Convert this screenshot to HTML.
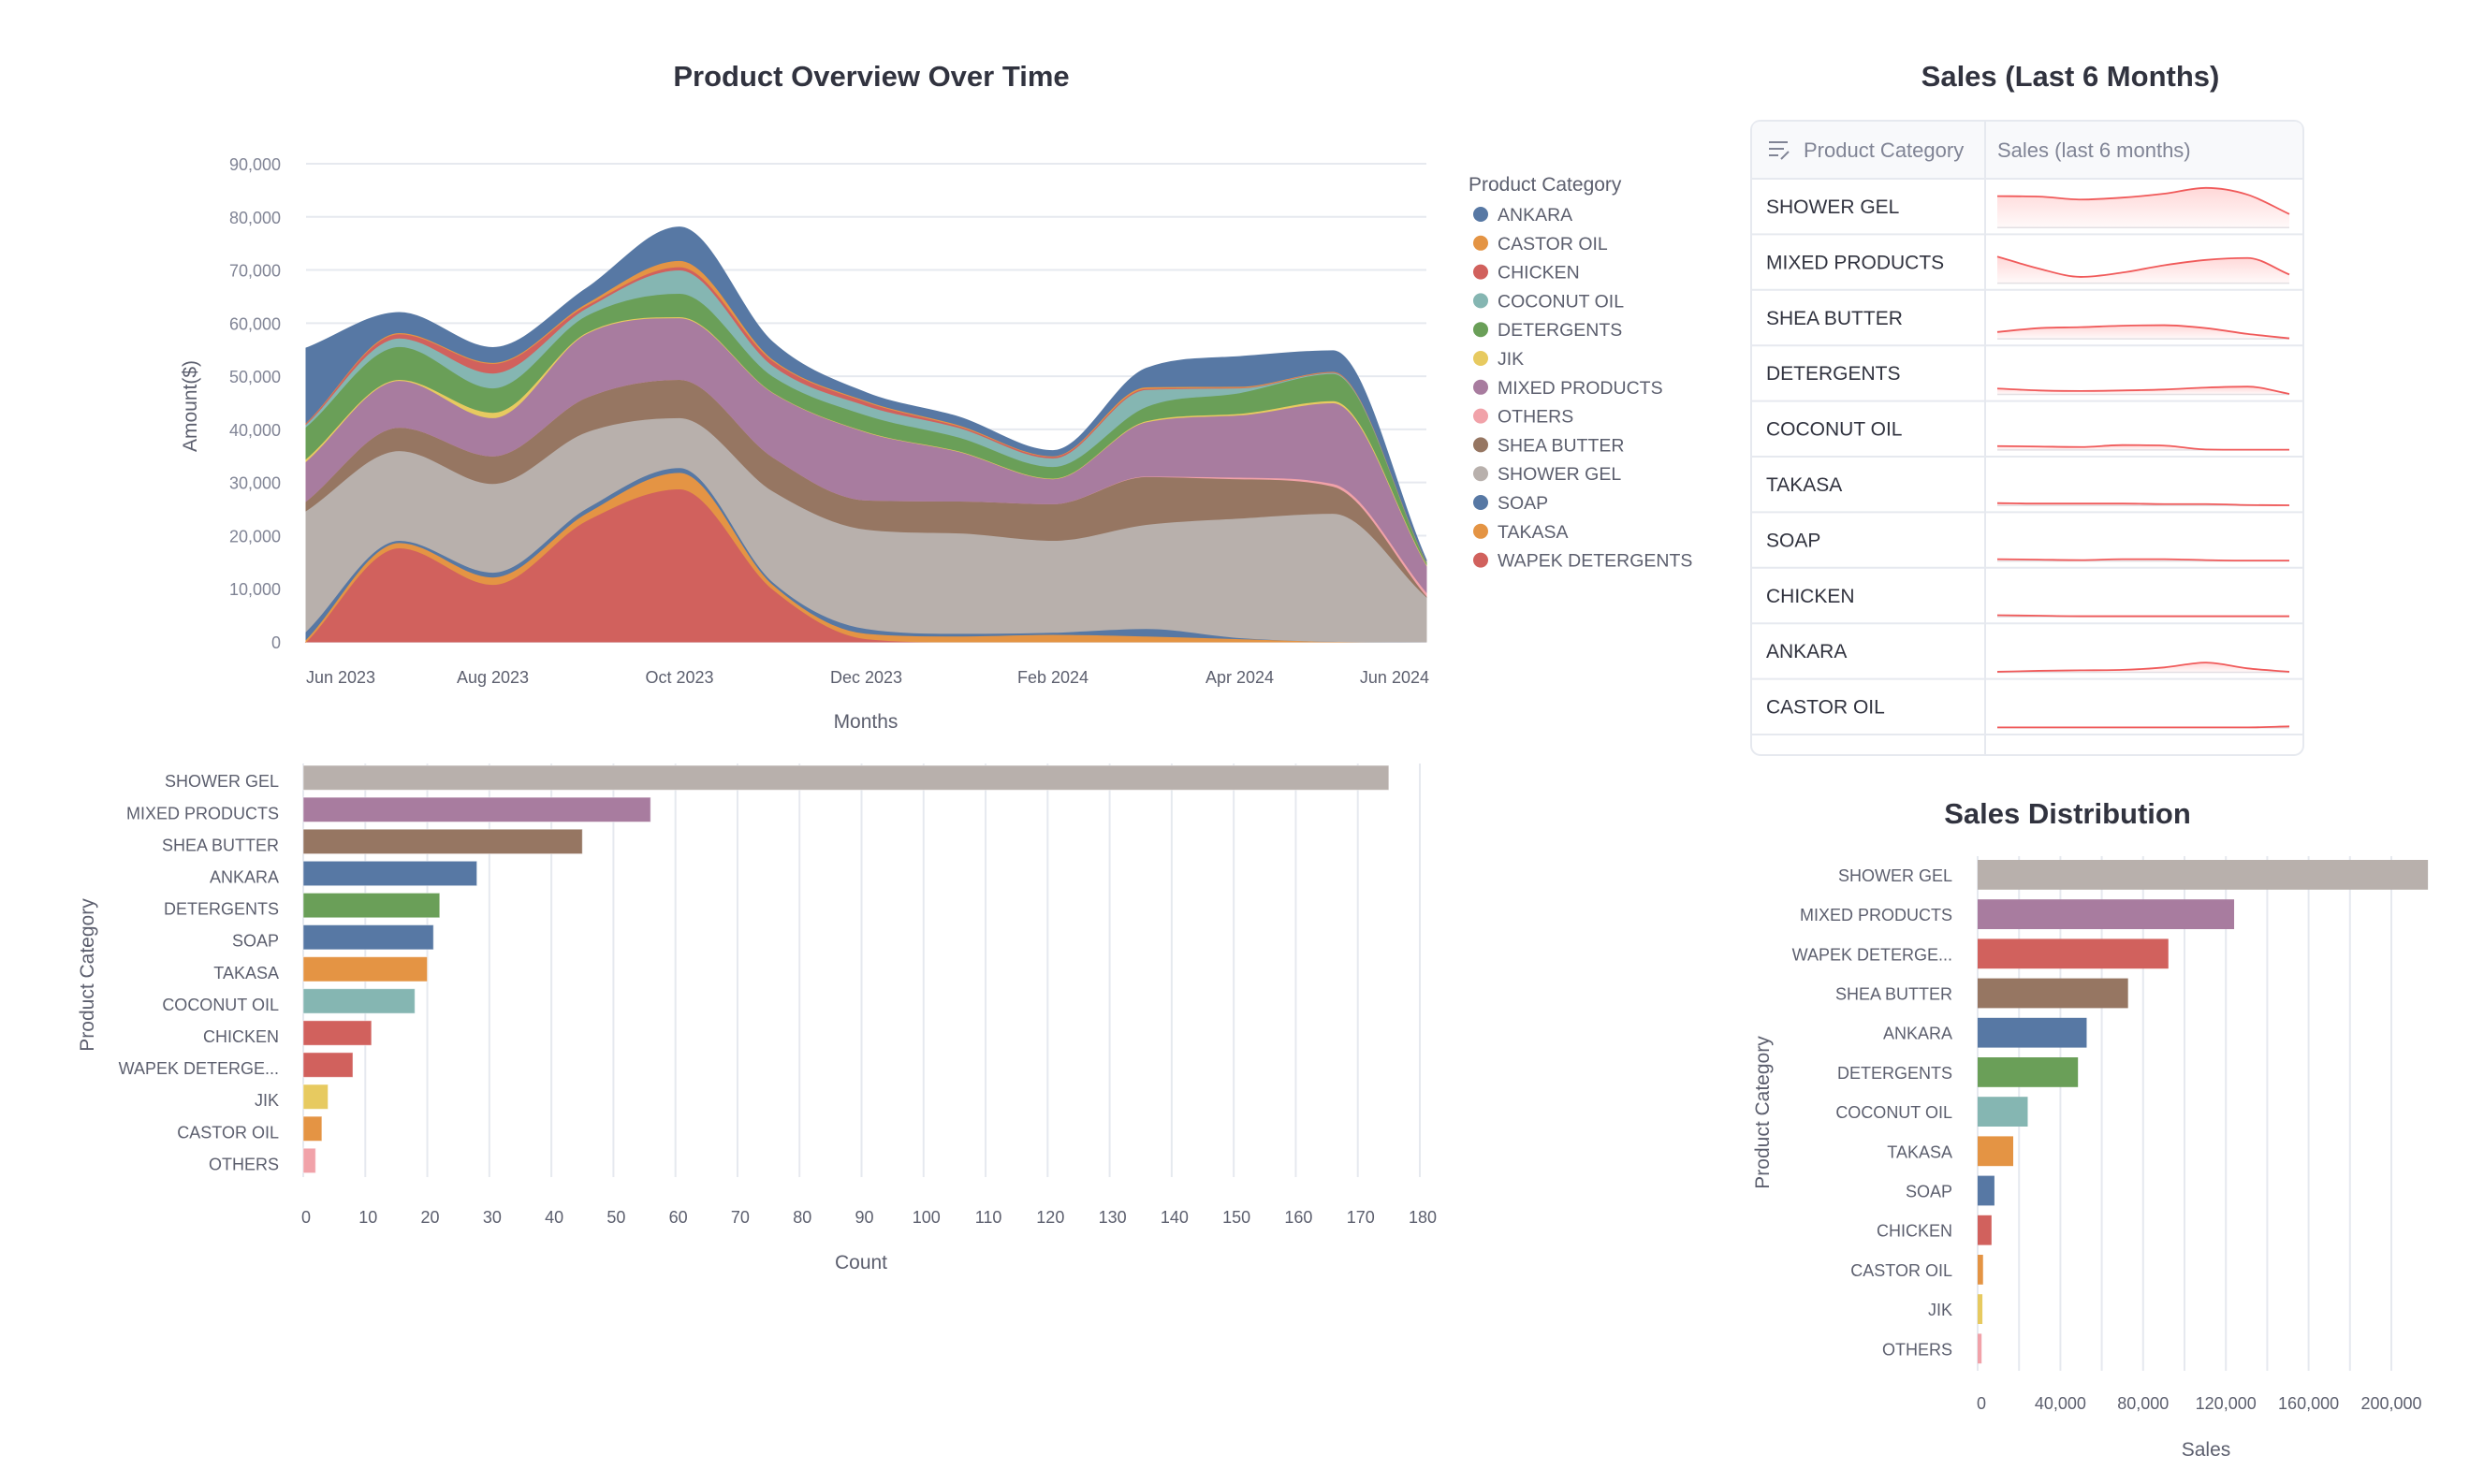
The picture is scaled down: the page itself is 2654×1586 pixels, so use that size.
<!DOCTYPE html>
<html><head><meta charset="utf-8"><style>
html,body{margin:0;padding:0;background:#fff;}
svg{display:block;font-family:"Liberation Sans",sans-serif;}
</style></head><body>
<svg id="s" width="2654" height="1586" viewBox="0 0 2654 1586" xmlns="http://www.w3.org/2000/svg">
<defs>
<linearGradient id="sg" x1="0" y1="0" x2="0" y2="1"><stop offset="0" stop-color="#ff4b4b" stop-opacity="0.22"/><stop offset="1" stop-color="#ff4b4b" stop-opacity="0.03"/></linearGradient>
</defs>
<text x="931" y="92" text-anchor="middle" font-size="31" font-weight="bold" fill="#31333f">Product Overview Over Time</text>
<text x="2212" y="92" text-anchor="middle" font-size="31" font-weight="bold" fill="#31333f">Sales (Last 6 Months)</text>
<text x="2209" y="880" text-anchor="middle" font-size="31" font-weight="bold" fill="#31333f">Sales Distribution</text>
<g id="area"></g><g id="count"></g><g id="table"></g><g id="sales"></g>
</svg>
<script>
const NS="http://www.w3.org/2000/svg";
// ---------- data ----------
const categories=["ANKARA","CASTOR OIL","CHICKEN","COCONUT OIL","DETERGENTS","JIK","MIXED PRODUCTS","OTHERS","SHEA BUTTER","SHOWER GEL","SOAP","TAKASA","WAPEK DETERGENTS"];
const colors=["#5778a4","#e49444","#d1615d","#85b6b2","#6a9f58","#e7ca60","#a87c9f","#f1a2a9","#967662","#b8b0ac","#5778a4","#e49444","#d1615d"];
const months=["Jun 2023","Jul 2023","Aug 2023","Sep 2023","Oct 2023","Nov 2023","Dec 2023","Jan 2024","Feb 2024","Mar 2024","Apr 2024","May 2024","Jun 2024"];
// monthly amounts (thousands $), per category
const sAnkara=[14,3.8,2.8,2.8,6.3,3.2,1.5,1.5,1.0,3.5,5.6,3.9,0.2];
const sCastor=[0.1,0.2,0.2,0.4,1.2,0.3,0.2,0.2,0.1,0.3,0.2,0.1,0.05];
const sChicken=[0.2,0.8,1.8,0.5,0.6,0.9,0.7,0.3,0.3,0.2,0.1,0.1,0.05];
const sCoconut=[0.5,1.6,2.8,1.4,4.4,2.0,1.8,1.8,1.6,3.2,0.9,0.2,0.1];
const sDetergents=[6,6.2,4.6,3.2,4.4,3.0,3.1,2.6,2.2,2.7,3.9,5.1,0.3];
const sJik=[0.5,0.2,1.0,0.2,0.2,0.1,0.1,0.1,0.1,0.2,0.3,0.4,0.2];
const sMixed=[7.5,8.8,7.2,12,11.6,12.1,12.8,9.3,4.7,10.2,11.7,15.2,5.1];
const sOthers=[0,0,0,0,0,0,0,0,0,0.1,0.3,0.5,0.7];
const sShea=[1.8,4.4,5.2,6.5,7.2,6.4,5.5,6,6.9,9,7.4,5.1,0.2];
const sShower=[22.7,16.9,16.7,14.4,9.4,17.1,18.7,18.9,17.3,19.6,22.5,24.1,8.5];
const sSoap=[1.5,0.4,0.9,0.9,0.9,0.5,0.9,0.5,0.4,1.4,0.2,0,0];
const sTakasa=[0.5,1,1.4,1.4,3.1,0.9,1.0,1.1,1.4,1.1,0.6,0.1,0];
const sWapek=[0,17.7,10.8,22.8,28.8,9.9,0.6,0,0,0,0,0,0];
const yTicks=[0,10000,20000,30000,40000,50000,60000,70000,80000,90000];
const xTickLabels=["Jun 2023","Aug 2023","Oct 2023","Dec 2023","Feb 2024","Apr 2024","Jun 2024"];
const xTickMonthIdx=[0,2,4,6,8,10,12];

const countCats=["SHOWER GEL","MIXED PRODUCTS","SHEA BUTTER","ANKARA","DETERGENTS","SOAP","TAKASA","COCONUT OIL","CHICKEN","WAPEK DETERGE...","JIK","CASTOR OIL","OTHERS"];
const countVals=[175,56,45,28,22,21,20,18,11,8,4,3,2];
const countColors=["#b8b0ac","#a87c9f","#967662","#5778a4","#6a9f58","#5778a4","#e49444","#85b6b2","#d1615d","#d1615d","#e7ca60","#e49444","#f1a2a9"];
const countTicks=[0,10,20,30,40,50,60,70,80,90,100,110,120,130,140,150,160,170,180];

const tableCats=["SHOWER GEL","MIXED PRODUCTS","SHEA BUTTER","DETERGENTS","COCONUT OIL","TAKASA","SOAP","CHICKEN","ANKARA","CASTOR OIL"];
const spShower=[65,64,58,62,70,82,68,28];
const spMixed=[55,30,13,22,37,48,52,18];
const spShea=[14,22,24,27,28,22,10,1];
const spDetergents=[12,8,7,8,10,14,16,1];
const spCoconut=[8,7,6,10,9,1,0.5,0.5];
const spTakasa=[5,4,4,4,3,3,1,0.5];
const spSoap=[4,3,2,4,4,2,1,1];
const spChicken=[3,2,1,1,1,1,1,1];
const spAnkara=[1,3,4,5,10,20,8,1];
const spCastor=[1,1,1,1,1,1,1,3];

const salesCats=["SHOWER GEL","MIXED PRODUCTS","WAPEK DETERGE...","SHEA BUTTER","ANKARA","DETERGENTS","COCONUT OIL","TAKASA","SOAP","CHICKEN","CASTOR OIL","JIK","OTHERS"];
const salesVals=[217700,124000,92200,72700,52700,48500,24200,17200,8100,6700,2600,2300,1900];
const salesColors=["#b8b0ac","#a87c9f","#d1615d","#967662","#5778a4","#6a9f58","#85b6b2","#e49444","#5778a4","#d1615d","#e49444","#e7ca60","#f1a2a9"];
const salesTicks=[0,40000,80000,120000,160000,200000];
const salesGrid=[0,20000,40000,60000,80000,100000,120000,140000,160000,180000,200000];

// ---------- helpers ----------
function mk(tag,attrs,parent){const e=document.createElementNS(NS,tag);for(const k in attrs)e.setAttribute(k,attrs[k]);parent.appendChild(e);return e;}
function fmt(v){return v.toLocaleString("en-US");}
function monotone(pts){
  const n=pts.length;if(n<2)return "";
  const d=[],m=[];
  for(let i=0;i<n-1;i++)d.push((pts[i+1][1]-pts[i][1])/(pts[i+1][0]-pts[i][0]));
  m[0]=d[0];m[n-1]=d[n-2];
  for(let i=1;i<n-1;i++){m[i]=(d[i-1]*d[i]<=0)?0:(d[i-1]+d[i])/2;}
  for(let i=0;i<n-1;i++){if(d[i]===0){m[i]=0;m[i+1]=0;continue;}const a=m[i]/d[i],b=m[i+1]/d[i],s=a*a+b*b;if(s>9){const t=3/Math.sqrt(s);m[i]=t*a*d[i];m[i+1]=t*b*d[i];}}
  let p="";
  for(let i=0;i<n-1;i++){const [x0,y0]=pts[i],[x1,y1]=pts[i+1],h=(x1-x0)/3;p+=` C${x0+h},${y0+m[i]*h} ${x1-h},${y1-m[i+1]*h} ${x1},${y1}`;}
  return p;
}

// ---------- area chart ----------
const A=document.getElementById("area");
const aL=327,aR=1524,aT=175,aB=686,aMax=90000;
const ax=i=>aL+(aR-aL)*i/(months.length-1);
const ay=v=>aB-(aB-aT)*v/aMax;
yTicks.forEach(t=>{
  const g=mk("line",{x1:aL,x2:aR,y1:ay(t),y2:ay(t),stroke:"#e6e9ef","stroke-width":2},A);
  
  
  const l=mk("text",{x:300,y:ay(t)+7,"text-anchor":"end","font-size":18,fill:"#808495"},A);l.textContent=fmt(t);
  
  
});
const series=[sAnkara,sCastor,sChicken,sCoconut,sDetergents,sJik,sMixed,sOthers,sShea,sShower,sSoap,sTakasa,sWapek];
let base=months.map(()=>0);
for(let c=series.length-1;c>=0;c--){
  const top=base.map((b,i)=>b+series[c][i]*1000);
  const up=top.map((v,i)=>[ax(i),ay(v)]);
  const lo=base.map((v,i)=>[ax(i),ay(v)]).reverse();
  const d=`M${up[0][0]},${up[0][1]}`+monotone(up)+` L${lo[0][0]},${lo[0][1]}`+monotone(lo)+"Z";
  const p=mk("path",{d:d,fill:colors[c],stroke:colors[c],"stroke-width":1},A);
  
  
  base=top;
}
xTickLabels.forEach((lab,k)=>{
  const i=xTickMonthIdx[k];let anchor="middle",x=ax(i);
  if(k===0){anchor="start";}if(k===xTickLabels.length-1){anchor="end";x=aR+3;}
  const t=mk("text",{x:x,y:730,"text-anchor":anchor,"font-size":18,fill:"#5c5f6e"},A);t.textContent=lab;
  
  
});
let t1=mk("text",{x:925,y:778,"text-anchor":"middle","font-size":21,fill:"#5c5f6e"},A);t1.textContent="Months";


let t2=mk("text",{x:210,y:434,"text-anchor":"middle","font-size":21,fill:"#5c5f6e",transform:"rotate(-90 210 434)"},A);t2.textContent="Amount($)";


let lt=mk("text",{x:1569,y:204,"font-size":21,fill:"#5c5f6e"},A);lt.textContent="Product Category";


categories.forEach((c,i)=>{
  const y=229+i*30.8;
  const g=mk("g",{},A);
  
  
  mk("circle",{cx:1582,cy:y,r:8,fill:colors[i]},g);
  const t=mk("text",{x:1600,y:y+7,"font-size":19.5,fill:"#5c5f6e"},g);t.textContent=c;
});

// ---------- count bar chart ----------
const C=document.getElementById("count");
const cL=324,cR=1517,cMax=180,cTop=818,cStep=34.1,cH=26.4;
const cx=v=>cL+(cR-cL)*v/cMax;
countTicks.forEach(t=>{
  const g=mk("line",{x1:cx(t),x2:cx(t),y1:816,y2:1258,stroke:"#e6e9ef","stroke-width":2},C);
  
  
  const l=mk("text",{x:cx(t)+3,y:1307,"text-anchor":"middle","font-size":18,fill:"#5c5f6e"},C);l.textContent=t;
  
  
});
countCats.forEach((c,i)=>{
  const y=cTop+i*cStep;
  const r=mk("rect",{x:cL,y:y,width:cx(countVals[i])-cL,height:cH,fill:countColors[i],stroke:"#fff","stroke-opacity":0.5},C);
  
  
  const l=mk("text",{x:298,y:y+cH/2+10,"text-anchor":"end","font-size":18,fill:"#5c5f6e"},C);l.textContent=c;
  
  
});
let t3=mk("text",{x:920,y:1356,"text-anchor":"middle","font-size":21,fill:"#5c5f6e"},C);t3.textContent="Count";


let t4=mk("text",{x:100,y:1042,"text-anchor":"middle","font-size":21,fill:"#5c5f6e",transform:"rotate(-90 100 1042)"},C);t4.textContent="Product Category";



// ---------- table ----------
const T=document.getElementById("table");
const tL=1871,tR=2461,tT=129,tB=807,hB=191,rowH=59.4,colX=2121;
let box=mk("rect",{x:tL,y:tT,width:tR-tL,height:tB-tT,rx:10,fill:"#fff",stroke:"#e6e9ef","stroke-width":2},T);


let hd=mk("path",{d:`M${tL+1},${hB} V${tT+10} Q${tL+1},${tT+1} ${tL+10},${tT+1} H${tR-10} Q${tR-1},${tT+1} ${tR-1},${tT+10} V${hB} Z`,fill:"#f8f9fb"},T);


mk("line",{x1:colX,x2:colX,y1:tT,y2:tB,stroke:"#e6e9ef","stroke-width":2},T);
for(let i=0;i<=10;i++){mk("line",{x1:tL,x2:tR,y1:hB+i*rowH,y2:hB+i*rowH,stroke:"#e6e9ef","stroke-width":2},T);}
let ic=mk("g",{stroke:"#808495","stroke-width":2,fill:"none"},T);


mk("path",{d:"M1890,152 h20 M1890,159 h16 M1890,166 h10 M1903,170 l8,-8"},ic);
let h1=mk("text",{x:1927,y:168,"font-size":22,fill:"#808495"},T);h1.textContent="Product Category";


let h2=mk("text",{x:2134,y:168,"font-size":22,fill:"#808495"},T);h2.textContent="Sales (last 6 months)";


const sparks=[spShower,spMixed,spShea,spDetergents,spCoconut,spTakasa,spSoap,spChicken,spAnkara,spCastor];
const spL=2134,spR=2446,spMax=85,spPx=44;
tableCats.forEach((c,i)=>{
  const top=hB+i*rowH;
  const l=mk("text",{x:1887,y:top+37,"font-size":21,fill:"#31333f"},T);l.textContent=c;
  
  
  const b=top+rowH*0.88;
  const v=sparks[i];
  const pts=v.map((val,k)=>[spL+(spR-spL)*k/(v.length-1),b-spPx*val/spMax]);
  const line=`M${pts[0][0]},${pts[0][1]}`+monotone(pts);
  const ar=mk("path",{d:line+` L${spR},${b} L${spL},${b} Z`,fill:"url(#sg)"},T);
  
  
  mk("line",{x1:spL,x2:spR,y1:b,y2:b,stroke:"#e3dfe3","stroke-width":1.5},T);
  const ln=mk("path",{d:line,fill:"none",stroke:"#f05a5a","stroke-width":1.8},T);
  
  
});

// ---------- sales distribution ----------
const S=document.getElementById("sales");
const sL=2113,sR=2555,sMax=200000,sTop=919,sStep=42.2,sH=31.8;
const sx=v=>sL+(sR-sL)*v/sMax;
salesGrid.forEach(t=>{
  const g=mk("line",{x1:sx(t),x2:sx(t),y1:915,y2:1465,stroke:"#e6e9ef","stroke-width":2},S);
  
  
});
salesTicks.forEach(t=>{
  const l=mk("text",{x:t===0?sx(t)+4:sx(t),y:1506,"text-anchor":"middle","font-size":18,fill:"#5c5f6e"},S);l.textContent=fmt(t);
  
  
});
salesCats.forEach((c,i)=>{
  const y=sTop+i*sStep;
  const r=mk("rect",{x:sL,y:y,width:sx(salesVals[i])-sL,height:sH,fill:salesColors[i]},S);
  
  
  const l=mk("text",{x:2086,y:y+sH/2+7,"text-anchor":"end","font-size":18,fill:"#5c5f6e"},S);l.textContent=c;
  
  
});
let t5=mk("text",{x:2357,y:1556,"text-anchor":"middle","font-size":21,fill:"#5c5f6e"},S);t5.textContent="Sales";


let t6=mk("text",{x:1890,y:1189,"text-anchor":"middle","font-size":21,fill:"#5c5f6e",transform:"rotate(-90 1890 1189)"},S);t6.textContent="Product Category";


</script>
</body></html>
